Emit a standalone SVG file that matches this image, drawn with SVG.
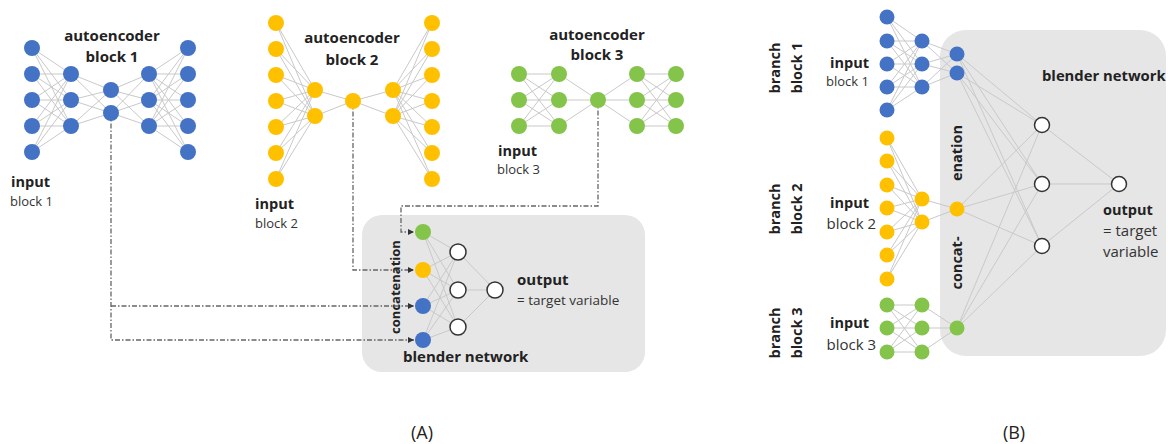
<svg xmlns="http://www.w3.org/2000/svg" width="1168" height="444" viewBox="0 0 1168 444">
<defs>
<style>
.e{fill:none;stroke:#c9c9c9;stroke-width:1}
.d{fill:none;stroke:#666;stroke-width:1.3;stroke-dasharray:5 2 1.5 2}
.b{fill:#4472c4}
.y{fill:#ffc000}
.g{fill:#84c44a}
.w{fill:#fff;stroke:#333;stroke-width:1.5}
.box{fill:#e6e6e6}
text{font-family:"Open Sans","Noto Sans","Liberation Sans",sans-serif;fill:#222}
.t{font-weight:bold;font-size:15px}
.s{font-size:13px;fill:#333}
.m{font-size:15px;fill:#333}
</style>
<marker id="arr" viewBox="0 0 6 6" refX="6" refY="3" markerWidth="6" markerHeight="6" markerUnits="userSpaceOnUse" orient="auto">
<path d="M0 0L6 3L0 6z" fill="#333"/>
</marker>
</defs>
<rect width="1168" height="444" fill="#fff"/>
<rect id="blenderA-bg" class="box" x="362" y="215" width="283" height="157" rx="20"/>
<rect id="blenderB-bg" class="box" x="940" y="30" width="226" height="326" rx="26"/>
<g id="connectors">
<path class="e" d="M32 48L71 74M32 48L71 100M32 48L71 126M32 74L71 74M32 74L71 100M32 74L71 126M32 100L71 74M32 100L71 100M32 100L71 126M32 126L71 74M32 126L71 100M32 126L71 126M32 152L71 74M32 152L71 100M32 152L71 126M71 74L111 90M71 74L111 113M71 100L111 90M71 100L111 113M71 126L111 90M71 126L111 113M111 90L149 74M111 90L149 100M111 90L149 126M111 113L149 74M111 113L149 100M111 113L149 126M149 74L188 48M149 74L188 74M149 74L188 100M149 74L188 126M149 74L188 152M149 100L188 48M149 100L188 74M149 100L188 100M149 100L188 126M149 100L188 152M149 126L188 48M149 126L188 74M149 126L188 100M149 126L188 126M149 126L188 152"/>
<path class="e" d="M276 23L315 90M276 23L315 116M276 49L315 90M276 49L315 116M276 75L315 90M276 75L315 116M276 101L315 90M276 101L315 116M276 127L315 90M276 127L315 116M276 153L315 90M276 153L315 116M276 179L315 90M276 179L315 116M315 90L353 101M315 116L353 101M353 101L393 90M353 101L393 116M393 90L432 23M393 90L432 49M393 90L432 75M393 90L432 101M393 90L432 127M393 90L432 153M393 90L432 179M393 116L432 23M393 116L432 49M393 116L432 75M393 116L432 101M393 116L432 127M393 116L432 153M393 116L432 179"/>
<path class="e" d="M519 74L559 74M519 74L559 100M519 74L559 126M519 100L559 74M519 100L559 100M519 100L559 126M519 126L559 74M519 126L559 100M519 126L559 126M559 74L598 100M559 100L598 100M559 126L598 100M598 100L637 74M598 100L637 100M598 100L637 126M637 74L676 74M637 74L676 100M637 74L676 126M637 100L676 74M637 100L676 100M637 100L676 126M637 126L676 74M637 126L676 100M637 126L676 126"/>
<path class="e" d="M423 232L458 252M423 232L458 290M423 232L458 327M423 270L458 252M423 270L458 290M423 270L458 327M423 306L458 252M423 306L458 290M423 306L458 327M423 340L458 252M423 340L458 290M423 340L458 327M458 252L495 290M458 290L495 290M458 327L495 290"/>
<path class="e" d="M887 17L922 41M887 17L922 64M887 17L922 87M887 41L922 41M887 41L922 64M887 41L922 87M887 64L922 41M887 64L922 64M887 64L922 87M887 87L922 41M887 87L922 64M887 87L922 87M887 110L922 41M887 110L922 64M887 110L922 87M922 41L957 54M922 41L957 73M922 64L957 54M922 64L957 73M922 87L957 54M922 87L957 73M957 54L1042 125M957 54L1042 184M957 54L1042 246M957 73L1042 125M957 73L1042 184M957 73L1042 246"/>
<path class="e" d="M887 138L922 199M887 138L922 222M887 161L922 199M887 161L922 222M887 185L922 199M887 185L922 222M887 208L922 199M887 208L922 222M887 232L922 199M887 232L922 222M887 255L922 199M887 255L922 222M887 279L922 199M887 279L922 222M922 199L957 209M922 222L957 209M957 209L1042 125M957 209L1042 184M957 209L1042 246"/>
<path class="e" d="M887 305L922 305M887 305L922 328M887 305L922 352M887 328L922 305M887 328L922 328M887 328L922 352M887 352L922 305M887 352L922 328M887 352L922 352M922 305L957 328M922 328L957 328M922 352L957 328M957 328L1042 125M957 328L1042 184M957 328L1042 246M1042 125L1119 184M1042 184L1119 184M1042 246L1119 184"/>
<path class="d" d="M111 113V340H414" marker-end="url(#arr)"/>
<path class="d" d="M111 306H414" marker-end="url(#arr)"/>
<path class="d" d="M353 101V270H414" marker-end="url(#arr)"/>
<path class="d" d="M598 100V206H401V232H414" marker-end="url(#arr)"/>
</g>
<g id="autoencoder1">
<circle class="b" cx="32" cy="48" r="8"/><circle class="b" cx="32" cy="74" r="8"/><circle class="b" cx="32" cy="100" r="8"/><circle class="b" cx="32" cy="126" r="8"/><circle class="b" cx="32" cy="152" r="8"/>
<circle class="b" cx="71" cy="74" r="8"/><circle class="b" cx="71" cy="100" r="8"/><circle class="b" cx="71" cy="126" r="8"/>
<circle class="b" cx="111" cy="90" r="8"/><circle class="b" cx="111" cy="113" r="8"/>
<circle class="b" cx="149" cy="74" r="8"/><circle class="b" cx="149" cy="100" r="8"/><circle class="b" cx="149" cy="126" r="8"/>
<circle class="b" cx="188" cy="48" r="8"/><circle class="b" cx="188" cy="74" r="8"/><circle class="b" cx="188" cy="100" r="8"/><circle class="b" cx="188" cy="126" r="8"/><circle class="b" cx="188" cy="152" r="8"/>
<text class="t" x="112" y="41" text-anchor="middle">autoencoder</text>
<text class="t" x="112" y="62" text-anchor="middle">block 1</text>
<text class="t" x="11" y="187" style="font-size:14.5px">input</text>
<text class="s" x="10" y="206">block 1</text>
</g>
<g id="autoencoder2">
<circle class="y" cx="276" cy="23" r="8"/><circle class="y" cx="276" cy="49" r="8"/><circle class="y" cx="276" cy="75" r="8"/><circle class="y" cx="276" cy="101" r="8"/><circle class="y" cx="276" cy="127" r="8"/><circle class="y" cx="276" cy="153" r="8"/><circle class="y" cx="276" cy="179" r="8"/>
<circle class="y" cx="315" cy="90" r="8"/><circle class="y" cx="315" cy="116" r="8"/>
<circle class="y" cx="353" cy="101" r="8"/>
<circle class="y" cx="393" cy="90" r="8"/><circle class="y" cx="393" cy="116" r="8"/>
<circle class="y" cx="432" cy="23" r="8"/><circle class="y" cx="432" cy="49" r="8"/><circle class="y" cx="432" cy="75" r="8"/><circle class="y" cx="432" cy="101" r="8"/><circle class="y" cx="432" cy="127" r="8"/><circle class="y" cx="432" cy="153" r="8"/><circle class="y" cx="432" cy="179" r="8"/>
<text class="t" x="352" y="43" text-anchor="middle">autoencoder</text>
<text class="t" x="352" y="65" text-anchor="middle">block 2</text>
<text class="t" x="255" y="209" style="font-size:14.5px">input</text>
<text class="s" x="255" y="228">block 2</text>
</g>
<g id="autoencoder3">
<circle class="g" cx="519" cy="74" r="8"/><circle class="g" cx="519" cy="100" r="8"/><circle class="g" cx="519" cy="126" r="8"/>
<circle class="g" cx="559" cy="74" r="8"/><circle class="g" cx="559" cy="100" r="8"/><circle class="g" cx="559" cy="126" r="8"/>
<circle class="g" cx="598" cy="100" r="8"/>
<circle class="g" cx="637" cy="74" r="8"/><circle class="g" cx="637" cy="100" r="8"/><circle class="g" cx="637" cy="126" r="8"/>
<circle class="g" cx="676" cy="74" r="8"/><circle class="g" cx="676" cy="100" r="8"/><circle class="g" cx="676" cy="126" r="8"/>
<text class="t" x="597" y="40" text-anchor="middle">autoencoder</text>
<text class="t" x="597" y="60" text-anchor="middle">block 3</text>
<text class="t" x="498" y="156" style="font-size:14.5px">input</text>
<text class="s" x="497" y="174">block 3</text>
</g>
<g id="blenderA">
<circle class="g" cx="423" cy="232" r="8"/><circle class="y" cx="423" cy="270" r="8"/><circle class="b" cx="423" cy="306" r="8"/><circle class="b" cx="423" cy="340" r="8"/>
<circle class="w" cx="458" cy="252" r="8"/><circle class="w" cx="458" cy="290" r="8"/><circle class="w" cx="458" cy="327" r="8"/>
<circle class="w" cx="495" cy="290" r="8"/>
<text class="t" transform="translate(400 287) rotate(-90)" text-anchor="middle" style="font-size:13px">concatenation</text>
<text class="t" x="517" y="285">output</text>
<text class="s" x="517" y="305" style="font-size:13.5px">= target variable</text>
<text class="t" x="403" y="362">blender network</text>
<text x="422" y="439" text-anchor="middle" style="font-size:18px;fill:#222">(A)</text>
</g>
<g id="branch1">
<circle class="b" cx="887" cy="17" r="7.5"/><circle class="b" cx="887" cy="41" r="7.5"/><circle class="b" cx="887" cy="64" r="7.5"/><circle class="b" cx="887" cy="87" r="7.5"/><circle class="b" cx="887" cy="110" r="7.5"/>
<circle class="b" cx="922" cy="41" r="7.5"/><circle class="b" cx="922" cy="64" r="7.5"/><circle class="b" cx="922" cy="87" r="7.5"/>
<circle class="b" cx="957" cy="54" r="7.5"/><circle class="b" cx="957" cy="73" r="7.5"/>
<text class="t" transform="translate(780 68) rotate(-90)" text-anchor="middle" style="font-size:14.5px">branch</text>
<text class="t" transform="translate(802 68) rotate(-90)" text-anchor="middle" style="font-size:14.5px">block 1</text>
<text class="t" x="869" y="68" text-anchor="end" style="font-size:14.5px">input</text>
<text class="s" x="869" y="86" text-anchor="end">block 1</text>
</g>
<g id="branch2">
<circle class="y" cx="887" cy="138" r="7.5"/><circle class="y" cx="887" cy="161" r="7.5"/><circle class="y" cx="887" cy="185" r="7.5"/><circle class="y" cx="887" cy="208" r="7.5"/><circle class="y" cx="887" cy="232" r="7.5"/><circle class="y" cx="887" cy="255" r="7.5"/><circle class="y" cx="887" cy="279" r="7.5"/>
<circle class="y" cx="922" cy="199" r="7.5"/><circle class="y" cx="922" cy="222" r="7.5"/>
<circle class="y" cx="957" cy="209" r="7.5"/>
<text class="t" transform="translate(780 209) rotate(-90)" text-anchor="middle" style="font-size:14.5px">branch</text>
<text class="t" transform="translate(802 209) rotate(-90)" text-anchor="middle" style="font-size:14.5px">block 2</text>
<text class="t" x="869" y="208" text-anchor="end" style="font-size:14.5px">input</text>
<text class="m" x="876" y="229" text-anchor="end">block 2</text>
</g>
<g id="branch3">
<circle class="g" cx="887" cy="305" r="7.5"/><circle class="g" cx="887" cy="328" r="7.5"/><circle class="g" cx="887" cy="352" r="7.5"/>
<circle class="g" cx="922" cy="305" r="7.5"/><circle class="g" cx="922" cy="328" r="7.5"/><circle class="g" cx="922" cy="352" r="7.5"/>
<circle class="g" cx="957" cy="328" r="7.5"/>
<text class="t" transform="translate(780 333) rotate(-90)" text-anchor="middle" style="font-size:14.5px">branch</text>
<text class="t" transform="translate(802 333) rotate(-90)" text-anchor="middle" style="font-size:14.5px">block 3</text>
<text class="t" x="869" y="328" text-anchor="end" style="font-size:14.5px">input</text>
<text class="m" x="876" y="350" text-anchor="end">block 3</text>
</g>
<g id="blenderB">
<circle class="w" cx="1042" cy="125" r="7.5"/><circle class="w" cx="1042" cy="184" r="7.5"/><circle class="w" cx="1042" cy="246" r="7.5"/>
<circle class="w" cx="1119" cy="184" r="7.5"/>
<text class="t" transform="translate(962 153) rotate(-90)" text-anchor="middle" style="font-size:14.5px">enation</text>
<text class="t" transform="translate(962 263) rotate(-90)" text-anchor="middle" style="font-size:14.5px">concat-</text>
<text class="t" x="1042" y="81" style="font-size:14.8px">blender network</text>
<text class="t" x="1103" y="215" style="font-size:14.5px">output</text>
<text class="m" x="1103" y="236">= target</text>
<text class="m" x="1103" y="257">variable</text>
<text x="1014" y="439" text-anchor="middle" style="font-size:18px;fill:#222">(B)</text>
</g>
</svg>
